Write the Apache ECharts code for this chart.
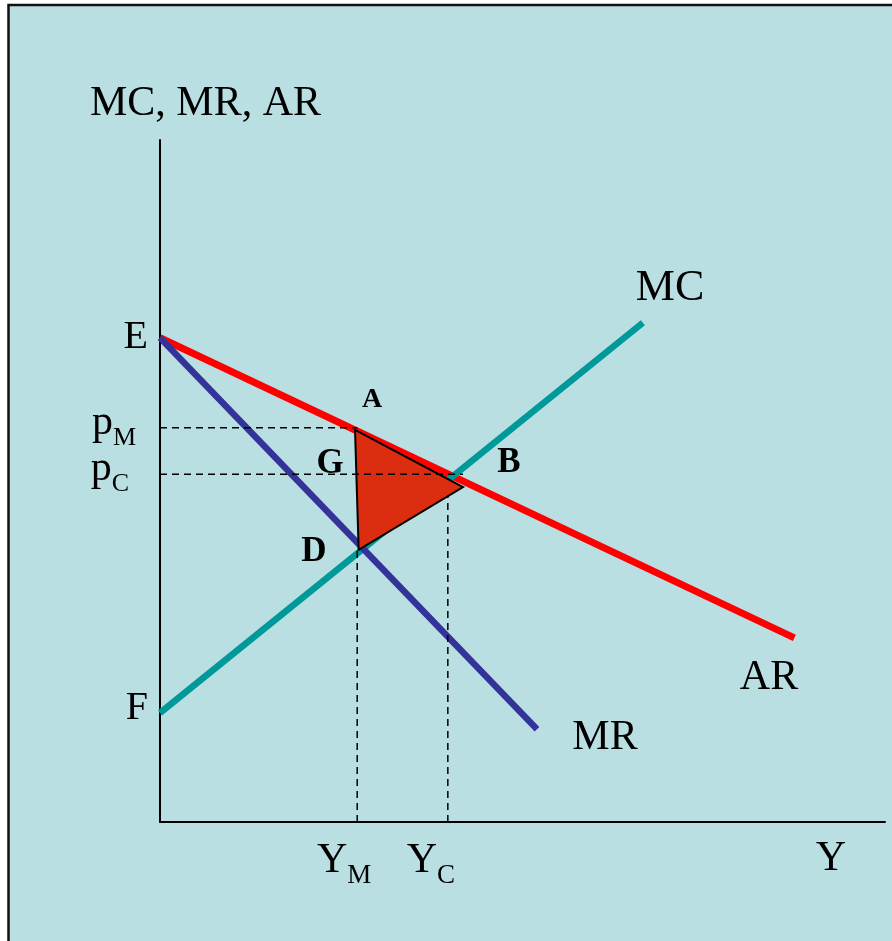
<!DOCTYPE html>
<html>
<head>
<meta charset="utf-8">
<script src="https://cdn.jsdelivr.net/npm/echarts@6/dist/echarts.min.js"></script>
<style>
  html, body { margin: 0; padding: 0; background: #ffffff; }
  #chart { width: 892px; height: 941px; }
</style>
</head>
<body>
<div id="chart"></div>
<script>
// Monopoly vs. competition: demand (AR), marginal revenue (MR), marginal cost (MC)
// Quantity axis 0..100, price axis 0..100 (arbitrary units).

// Curves, as [quantity, price] end points
const arCurve = [[0, 71], [87.5, 27]];
const mrCurve = [[0, 71], [52, 13.6]];
const mcCurve = [[0, 16], [66.6, 73.2]];

// Deadweight-loss triangle A, B, D
const lossTriangle = [[26.9, 57.5], [41.8, 49.1], [27.4, 39.9]];

// Price levels and quantities
const priceE = 71;
const priceF = 16;
const priceM = 57.8;
const priceC = 51;
const qtyM = 27.2;
const qtyC = 39.7;

// Tick labels
const priceTickValues = [priceF, priceC, priceM, priceE];
const priceTickLabels = ['{F|F}', '{p|p}{sC|C}', '{p|p}{sM|M}', '{E|E}'];
const qtyTickValues = [qtyM, qtyC];
const qtyTickLabels = ['{Y|Y}{xM|M}', '{Y|Y}{xC|C}'];

const SERIF = 'Liberation Serif';
const BG = '#badfe3';

function nearestLabel(values, labels, v) {
  let best = 0;
  for (let i = 1; i < values.length; i++) {
    if (Math.abs(values[i] - v) < Math.abs(values[best] - v)) best = i;
  }
  return labels[best];
}

function curveSeries(data, color, width) {
  return {
    type: 'line', data: data, symbol: 'none', silent: true, z: 2,
    lineStyle: { color: color, width: width, cap: 'butt' }
  };
}

function guideSeries(data) {
  return {
    type: 'line', data: data, symbol: 'none', silent: true, z: 5,
    lineStyle: { color: '#000', width: 1.5, type: [7, 5] }
  };
}

const chart = echarts.init(document.getElementById('chart'), null, { renderer: 'canvas' });

chart.setOption({
  animation: false,
  backgroundColor: '#ffffff',
  textStyle: { fontFamily: SERIF, color: '#000' },
  grid: { left: 160, top: 140, right: 7, bottom: 119 },
  xAxis: {
    type: 'value', min: 0, max: 100,
    axisLine: { show: true, onZero: false, lineStyle: { color: '#000', width: 2 } },
    axisTick: { show: false },
    splitLine: { show: false },
    axisLabel: {
      customValues: qtyTickValues,
      margin: 18,
      verticalAlign: 'top',
      formatter: v => nearestLabel(qtyTickValues, qtyTickLabels, v),
      rich: {
        Y: { fontFamily: SERIF, fontSize: 42, lineHeight: 42, color: '#000' },
        xM: { fontFamily: SERIF, fontSize: 27, lineHeight: 27, color: '#000', padding: [30, 26, 0, 0] },
        xC: { fontFamily: SERIF, fontSize: 27, lineHeight: 27, color: '#000', padding: [30, 34, 0, 0] }
      }
    }
  },
  yAxis: {
    type: 'value', min: 0, max: 100,
    axisLine: { show: true, onZero: false, lineStyle: { color: '#000', width: 2 } },
    axisTick: { show: false },
    splitLine: { show: false },
    axisLabel: {
      customValues: priceTickValues,
      margin: 12,
      formatter: v => nearestLabel(priceTickValues, priceTickLabels, v),
      rich: {
        E: { fontFamily: SERIF, fontSize: 40, lineHeight: 40, color: '#000' },
        F: { fontFamily: SERIF, fontSize: 40, lineHeight: 40, color: '#000', padding: [0, 0, 8, 0] },
        p: { fontFamily: SERIF, fontSize: 42, lineHeight: 42, color: '#000', padding: [0, 0, 10, 0] },
        sM: { fontFamily: SERIF, fontSize: 26, lineHeight: 26, color: '#000', padding: [20, 12, 0, 0] },
        sC: { fontFamily: SERIF, fontSize: 26, lineHeight: 26, color: '#000', padding: [20, 19, 0, 0] }
      }
    }
  },
  graphic: [
    {
      type: 'rect', z: -10, silent: true,
      shape: { x: 8.5, y: 5, width: 900, height: 950 },
      style: { fill: BG, stroke: '#111', lineWidth: 2.5 }
    },
    { type: 'text', x: 90, y: 104, style: { text: 'MC, MR, AR', font: '42px "Liberation Serif"', fill: '#000', align: 'left', verticalAlign: 'middle' } },
    { type: 'text', x: 831, y: 859, style: { text: 'Y', font: '42px "Liberation Serif"', fill: '#000', align: 'center', verticalAlign: 'middle' } },
    { type: 'text', x: 670, y: 288, style: { text: 'MC', font: '44px "Liberation Serif"', fill: '#000', align: 'center', verticalAlign: 'middle' } },
    { type: 'text', x: 769, y: 678, style: { text: 'AR', font: '42px "Liberation Serif"', fill: '#000', align: 'center', verticalAlign: 'middle' } },
    { type: 'text', x: 605, y: 738, style: { text: 'MR', font: '42px "Liberation Serif"', fill: '#000', align: 'center', verticalAlign: 'middle' } },
    { type: 'text', x: 372, y: 400, style: { text: 'A', font: 'bold 28px "Liberation Serif"', fill: '#000', align: 'center', verticalAlign: 'middle' } },
    { type: 'text', x: 330, y: 464, style: { text: 'G', font: 'bold 35px "Liberation Serif"', fill: '#000', align: 'center', verticalAlign: 'middle' } },
    { type: 'text', x: 509, y: 463, style: { text: 'B', font: 'bold 35px "Liberation Serif"', fill: '#000', align: 'center', verticalAlign: 'middle' } },
    { type: 'text', x: 314, y: 552, style: { text: 'D', font: 'bold 35px "Liberation Serif"', fill: '#000', align: 'center', verticalAlign: 'middle' } }
  ],
  series: [
    curveSeries(arCurve, '#ff0000', 7),
    curveSeries(mcCurve, '#009999', 6.5),
    curveSeries(mrCurve, '#333399', 6.5),
    {
      type: 'custom',
      silent: true,
      z: 4,
      data: [0],
      renderItem: function (params, api) {
        const pts = lossTriangle.map(p => api.coord(p));
        return {
          type: 'polygon',
          shape: { points: pts },
          style: { fill: '#dc2d10', stroke: '#000', lineWidth: 2 }
        };
      }
    },
    guideSeries([[0, priceM], [qtyM, priceM]]),
    guideSeries([[0, priceC], [lossTriangle[1][0], priceC]]),
    guideSeries([[qtyM, 0], [qtyM, lossTriangle[2][1]]]),
    guideSeries([[qtyC, 0], [qtyC, 47.8]])
  ]
});
</script>
</body>
</html>
